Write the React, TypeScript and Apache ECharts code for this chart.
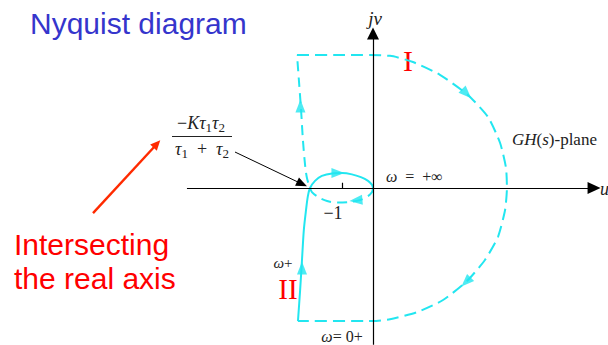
import React, { useEffect, useRef } from 'react';
import * as echarts from 'echarts';

// Axis bounds (complex-plane units; −1 is the marked tick)
const X_MIN = -12.03;
const X_MAX = 7.58;
const Y_MIN = -5.06;
const Y_MAX = 6.06;

// ω from 0+ to +∞ (solid, region II and upper half of the small loop)
const solidBranch: number[][] = [
  [-2.42, -4.29], [-2.35, -3.29], [-2.29, -2.32], [-2.23, -1.35], [-2.16, -0.71],
  [-2.1, -0.26], [-2.03, 0], [-1.87, 0.23], [-1.65, 0.39], [-1.32, 0.47],
  [-1.0, 0.48], [-0.68, 0.44], [-0.39, 0.35], [-0.16, 0.23], [-0.03, 0.1], [0, 0],
];

// mirror image, ω from −∞ to 0− (dashed, lower loop half and left vertical)
const dashedBranch: number[][] = [
  [0, 0], [-0.03, -0.13], [-0.16, -0.26], [-0.42, -0.39], [-0.74, -0.45],
  [-1.13, -0.47], [-1.48, -0.42], [-1.77, -0.29], [-1.97, -0.13], [-2.03, 0],
  [-2.13, 0.32], [-2.19, 0.74], [-2.26, 1.55], [-2.32, 2.52], [-2.39, 3.48], [-2.45, 4.29],
];

// infinite semicircle mapped (region I), dashed
const outerContour: number[][] = [
  [-2.45, 4.29], [-1.06, 4.29], [0.55, 4.26], [1.29, 4.06], [2.16, 3.65],
  [3.06, 3.0], [3.71, 2.29], [4.1, 1.45], [4.29, 0.65], [4.32, 0],
  [4.26, -0.71], [4.03, -1.58], [3.61, -2.32], [3.03, -3.0], [2.26, -3.61],
  [1.42, -4.0], [0.55, -4.23], [0, -4.29], [-2.42, -4.29],
];

// direction arrows on the contour
const arrowPoints: number[][] = [
  [-2.29, -2.58], [-2.34, 2.64], [-1.13, 0.48], [-0.55, -0.4], [3.02, 3.04], [3.0, -3.03],
];
const arrowAngles: number[] = [0, 0, -90, 95, -135, 135];

// axes, tick and annotation arrows
const realAxis: number[][] = [[-6.0, 0], [7.13, 0]];
const imagAxis: number[][] = [[0, -5.05], [0, 4.98]];
const tickMinusOne: number[][] = [[-1, 0], [-1, 0.17]];
const redArrow: number[][] = [[-9.03, -0.81], [-6.97, 1.42]];
const blackArrow: number[][] = [[-4.45, 1.16], [-2.29, 0.13]];

const CYAN = '#22E6F0';
const SERIF = '"Liberation Serif", "Times New Roman", serif';
const SANS = '"Liberation Sans", Arial, sans-serif';

function mathRich(size: number) {
  return {
    m: { fontFamily: SERIF, fontSize: size, fill: '#222', lineHeight: size + 4 },
    i: { fontFamily: SERIF, fontSize: size, fontStyle: 'italic', fill: '#222', lineHeight: size + 4 },
    s: { fontFamily: SERIF, fontSize: Math.round(size * 0.7), fill: '#222', lineHeight: Math.round(size * 0.7), verticalAlign: 'bottom' },
  };
}

function txt(x: number, y: number, text: string, opts: any = {}) {
  const align = opts.align || 'left';
  return {
    type: 'text',
    x,
    y,
    silent: true,
    style: {
      text,
      fontFamily: opts.fontFamily || SERIF,
      fontSize: opts.fontSize || 15,
      fontStyle: opts.fontStyle || 'normal',
      fill: opts.fill || '#222',
      align,
      verticalAlign: 'middle',
      textAlign: align,
      textVerticalAlign: 'middle',
      rich: opts.rich,
    },
  };
}

export default function App() {
  const ref = useRef<HTMLDivElement>(null);
  useEffect(() => {
    if (!ref.current) return;
    const chart = echarts.init(ref.current, null, { renderer: 'svg' });
    const ml = (pts: number[][], color: string, width: number, endSymbol: string, size: number[]) => [
      { coord: pts[0], symbol: 'none', lineStyle: { color, width, type: 'solid' } },
      { coord: pts[1], symbol: endSymbol, symbolSize: size, itemStyle: { color }, lineStyle: { color, width, type: 'solid' } },
    ];
    chart.setOption({
      animation: false,
      backgroundColor: '#ffffff',
      grid: { left: 0, right: 0, top: 0, bottom: 0, containLabel: false },
      xAxis: { type: 'value', min: X_MIN, max: X_MAX, show: false },
      yAxis: { type: 'value', min: Y_MIN, max: Y_MAX, show: false },
      series: [
        {
          type: 'line',
          data: [],
          silent: true,
          markLine: {
            silent: true,
            animation: false,
            label: { show: false },
            emphasis: { disabled: true },
            data: [
              ml(realAxis, '#000', 1.2, 'triangle', [12, 13]),
              ml(imagAxis, '#000', 1.2, 'triangle', [12, 12]),
              ml(tickMinusOne, '#000', 1.2, 'none', [1, 1]),
              ml(redArrow, '#FF2A00', 2.4, 'triangle', [9, 10]),
              ml(blackArrow, '#000', 1, 'triangle', [9, 11]),
            ],
          },
        },
        {
          type: 'line',
          data: solidBranch,
          showSymbol: false,
          smooth: 0.3,
          silent: true,
          lineStyle: { color: CYAN, width: 2 },
        },
        {
          type: 'line',
          data: dashedBranch,
          showSymbol: false,
          smooth: 0.3,
          silent: true,
          lineStyle: { color: CYAN, width: 2, type: [10, 6] },
        },
        {
          type: 'line',
          data: outerContour,
          showSymbol: false,
          smooth: 0.2,
          silent: true,
          lineStyle: { color: CYAN, width: 2, type: [12, 6] },
        },
        {
          type: 'scatter',
          silent: true,
          symbol: 'triangle',
          symbolSize: [10, 13],
          itemStyle: { color: CYAN },
          data: arrowPoints.map((p, k) => ({ value: p, symbolRotate: arrowAngles[k] })),
        },
      ],
      graphic: [
        txt(30, 23, 'Nyquist diagram', { fontFamily: SANS, fontSize: 30, fill: '#3535CC' }),
        txt(14, 244, 'Intersecting', { fontFamily: SANS, fontSize: 30, fill: '#FF0000' }),
        txt(14, 278, 'the real axis', { fontFamily: SANS, fontSize: 30, fill: '#FF0000' }),
        txt(408, 60, 'I', { fontSize: 30, fill: '#FF0000', align: 'center' }),
        txt(288, 289, 'II', { fontSize: 29, fill: '#FF0000', align: 'center' }),
        txt(375, 18, 'jv', { fontSize: 19, fontStyle: 'italic', fill: '#222', align: 'center' }),
        txt(600, 189, 'u', { fontSize: 18, fontStyle: 'italic', fill: '#222' }),
        txt(333, 213, '−1', { fontSize: 18, align: 'center' }),
        txt(386, 176, '{i|ω}{m|  =  +∞}', { fontSize: 16, rich: mathRich(16) }),
        txt(512, 139, '{i|GH}{m|(}{i|s}{m|)-plane}', { fontSize: 17, rich: mathRich(17) }),
        txt(283, 263, '{i|ω}{m|+}', { fontSize: 15, align: 'center', rich: mathRich(15) }),
        txt(342, 336, '{i|ω}{m|= 0+}', { fontSize: 16, align: 'center', rich: mathRich(16) }),
        txt(201, 123, '{m|−}{i|Kτ}{s|1}{i|τ}{s|2}', { fontSize: 18, align: 'center', rich: mathRich(18) }),
        txt(202, 149, '{i|τ}{s|1}{m|  +  }{i|τ}{s|2}', { fontSize: 18, align: 'center', rich: mathRich(18) }),
        {
          type: 'line',
          silent: true,
          shape: { x1: 172, y1: 136.5, x2: 232, y2: 136.5 },
          style: { stroke: '#222', lineWidth: 1 },
        },
      ],
    });
    return () => chart.dispose();
  }, []);
  return (
    <div
      ref={ref}
      style={{ position: 'fixed', left: 0, top: 0, width: 608, height: 345, background: '#fff' }}
    />
  );
}
